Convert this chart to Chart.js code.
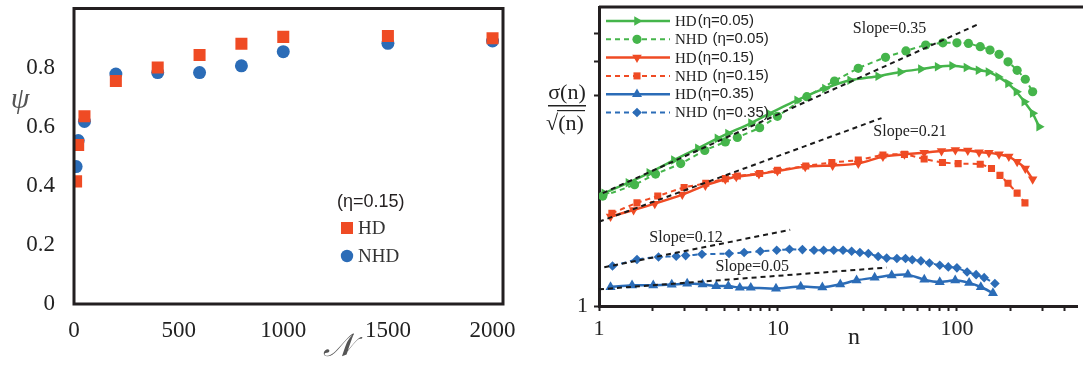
<!DOCTYPE html>
<html>
<head>
<meta charset="utf-8">
<script src="https://cdn.jsdelivr.net/npm/chart.js@4.4.0/dist/chart.umd.min.js"></script>
<style>
  html,body{margin:0;padding:0;background:#fff;}
  body{width:1083px;height:366px;position:relative;overflow:hidden;}
  #wrapL{position:absolute;left:0;top:0;width:540px;height:366px;}
  #wrapR{position:absolute;left:540px;top:0;width:543px;height:366px;}
</style>
</head>
<body>
<div id="wrapL"><canvas id="chartPsi" width="540" height="366"></canvas></div>
<div id="wrapR"><canvas id="chartSigma" width="543" height="366"></canvas></div>
<script>
// ---- left panel : psi vs N  (eta = 0.15)
const sizesN    = [10, 20, 50, 200, 400, 600, 800, 1000, 1500, 2000];
const psiHD     = [0.415, 0.538, 0.635, 0.755, 0.800, 0.843, 0.881, 0.904, 0.907, 0.899];
const psiNHD    = [0.465, 0.553, 0.618, 0.778, 0.783, 0.783, 0.806, 0.854, 0.882, 0.890];
const psiXTicks = [0, 500, 1000, 1500, 2000];
const psiYTicks = [0, 0.2, 0.4, 0.6, 0.8];

// ---- right panel : sigma(n)/sqrt(n) vs n  (log-log)
const nHD05  = [1.07, 1.46, 1.91, 2.62, 3.57, 4.59, 5.26, 7.07, 8.93, 12.8, 18.3, 25.3, 36.3, 48.3, 62.9, 78, 94, 113, 132, 150, 170, 193, 215, 238, 265, 288];
const sHD05  = [2.10, 2.25, 2.40, 2.61, 2.82, 3.01, 3.11, 3.33, 3.54, 3.87, 4.18, 4.41, 4.53, 4.66, 4.75, 4.82, 4.85, 4.80, 4.71, 4.66, 4.51, 4.32, 4.09, 3.83, 3.55, 3.25];
const nNHD05 = [1.05, 1.58, 2.07, 2.86, 3.90, 5.08, 5.93, 7.90, 9.93, 14.5, 20.7, 28.1, 39.9, 51.9, 66.9, 83.4, 100, 116, 135, 153, 172, 193, 217, 241, 265];
const sNHD05 = [2.06, 2.22, 2.38, 2.55, 2.78, 2.94, 3.03, 3.23, 3.48, 3.96, 4.39, 4.77, 5.13, 5.35, 5.56, 5.64, 5.64, 5.62, 5.50, 5.38, 5.23, 4.98, 4.71, 4.44, 4.09];
const nHD15  = [1.16, 1.56, 2.05, 2.92, 3.93, 5.08, 5.85, 7.83, 9.93, 14.2, 20.2, 28.1, 38.6, 50.9, 65.6, 82, 98, 115, 133, 151, 172, 195, 217, 241, 265];
const sHD15  = [1.80, 1.88, 1.96, 2.08, 2.21, 2.30, 2.34, 2.38, 2.43, 2.50, 2.52, 2.55, 2.67, 2.71, 2.74, 2.77, 2.79, 2.78, 2.75, 2.74, 2.71, 2.67, 2.58, 2.47, 2.30];
const nNHD15 = [1.18, 1.63, 2.13, 2.99, 3.95, 5.08, 5.93, 7.90, 9.93, 14.3, 20.0, 28.1, 38.6, 50.9, 65.6, 83, 101.6, 135, 156, 174, 193, 217, 240];
const sNHD15 = [1.84, 1.97, 2.06, 2.18, 2.24, 2.31, 2.35, 2.39, 2.44, 2.51, 2.57, 2.61, 2.70, 2.71, 2.63, 2.57, 2.55, 2.54, 2.47, 2.36, 2.24, 2.10, 1.97];
const nHD35  = [1.16, 1.53, 2.01, 2.55, 3.11, 3.79, 4.52, 5.28, 6.12, 7.05, 9.75, 13.4, 17.7, 22.3, 27.5, 34.7, 43.2, 53.2, 65.7, 80.2, 97.8, 117, 136, 159];
const sHD35  = [1.133, 1.146, 1.146, 1.151, 1.159, 1.153, 1.140, 1.140, 1.128, 1.128, 1.121, 1.136, 1.130, 1.153, 1.184, 1.205, 1.224, 1.229, 1.189, 1.171, 1.184, 1.164, 1.133, 1.089];
const nNHD35 = [1.19, 1.63, 2.15, 2.70, 3.05, 3.76, 5.33, 6.47, 7.96, 9.84, 11.6, 13.7, 15.9, 18.0, 20.5, 23.1, 25.8, 28.7, 32.0, 36.3, 40.5, 46.2, 51.6, 56.3, 62.9, 70.2, 80.2, 89.5, 100, 114, 128, 142, 163];
const sNHD35 = [1.301, 1.357, 1.380, 1.387, 1.393, 1.405, 1.412, 1.421, 1.433, 1.443, 1.452, 1.449, 1.443, 1.443, 1.443, 1.443, 1.433, 1.421, 1.412, 1.385, 1.370, 1.366, 1.366, 1.356, 1.345, 1.327, 1.307, 1.293, 1.285, 1.251, 1.229, 1.205, 1.159];

// guide lines (two end points each) and their labels
const slopeLabels = ["Slope=0.35", "Slope=0.21", "Slope=0.12", "Slope=0.05"];
const slopeN      = [[1.05, 132], [1.0, 37.9], [1.07, 11.7], [1.0, 40.4]];
const slopeS      = [[2.10, 6.38], [1.74, 3.44], [1.29, 1.65], [1.116, 1.287]];

const nTicks     = [1,2,3,4,5,6,7,8,9,10,20,30,40,50,60,70,80,90,100,200,300,400];
const nLabels    = [1, 10, 100];
const sigmaTicks = [1, 4, 5, 6];

// colours / fonts
const GREEN = "#45b54b", RED = "#ef4b24", BLUE = "#2b6cb7", INK = "#231f20";
const SERIF = '"Liberation Serif", "Times New Roman", serif';
const SANS  = '"Liberation Sans", Arial, sans-serif';

const pts = (xs, ys)=> xs.map((x,i)=>({x, y: ys[i]}));

function drawMarker(ctx, style, x, y, r, rot){
  ctx.beginPath();
  if (style === "circle") ctx.arc(x, y, r, 0, Math.PI*2);
  else if (style === "rect"){ const h = r*Math.SQRT1_2; ctx.rect(x-h, y-h, 2*h, 2*h); }
  else if (style === "rectRot"){ ctx.moveTo(x, y-r); ctx.lineTo(x+r, y); ctx.lineTo(x, y+r); ctx.lineTo(x-r, y); ctx.closePath(); }
  else { // triangle
    let a = (rot||0)*Math.PI/180;
    for (let i=0;i<3;i++){
      const px = x+Math.sin(a)*r, py = y-Math.cos(a)*r;
      if (i) ctx.lineTo(px,py); else ctx.moveTo(px,py);
      a += 2*Math.PI/3;
    }
    ctx.closePath();
  }
  ctx.fill();
}

// ================= left chart =================
const leftDecor = {
  id: "leftDecor",
  afterDraw(chart){
    const {ctx, chartArea:a} = chart;
    ctx.save();
    ctx.strokeStyle = INK; ctx.lineWidth = 3;
    ctx.strokeRect(a.left, a.top, a.right-a.left, a.bottom-a.top);

    ctx.fillStyle = INK;
    ctx.textBaseline = "middle"; ctx.textAlign = "left";
    ctx.font = "18px " + SANS;
    ctx.fillText("(η=0.15)", 337, 202);
    ctx.fillStyle = RED;  drawMarker(ctx, "rect", 347, 228, 8.5);
    ctx.fillStyle = BLUE; drawMarker(ctx, "circle", 347, 256, 6.2);
    ctx.fillStyle = "#333";
    ctx.font = "19px " + SERIF;
    ctx.fillText("HD", 358, 229);
    ctx.fillText("NHD", 358, 257);

    ctx.fillStyle = "#555";
    ctx.textAlign = "center";
    ctx.font = "italic 30px " + SERIF;
    ctx.fillText("ψ", 20, 100);
    ctx.font = "italic 32px " + SERIF;
    ctx.fillText("𝒩", 338, 348);
    ctx.restore();
  }
};

new Chart(document.getElementById("chartPsi"), {
  type: "scatter",
  data: {
    datasets: [
      { label:"HD",  data: pts(sizesN, psiHD),  pointStyle:"rect",   pointRadius:8.5, backgroundColor:RED,  borderColor:RED,  borderWidth:0 },
      { label:"NHD", data: pts(sizesN, psiNHD), pointStyle:"circle", pointRadius:6.5, backgroundColor:BLUE, borderColor:BLUE, borderWidth:0 }
    ]
  },
  options: {
    responsive:false, animation:false, devicePixelRatio:1,
    layout:{ padding:{ top:6, right:37, left:0, bottom:0 } },
    plugins:{ legend:{display:false}, tooltip:{enabled:false} },
    scales:{
      x:{
        type:"linear", min:0, max:2050,
        afterBuildTicks: s=>{ s.ticks = psiXTicks.map(v=>({value:v})); },
        afterFit: s=>{ s.height = 62; s.paddingLeft = 0; s.paddingRight = 0; },
        grid:{ display:false }, border:{ display:false },
        ticks:{ font:{ family:SERIF, size:23 }, color:"#222", padding:5, maxRotation:0, autoSkip:false,
                callback:v=> String(v) }
      },
      y:{
        type:"linear", min:0, max:1.0,
        afterBuildTicks: s=>{ s.ticks = psiYTicks.map(v=>({value:v})); },
        afterFit: s=>{ s.width = 74; s.paddingTop = 0; s.paddingBottom = 0; },
        grid:{ display:false }, border:{ display:false },
        ticks:{ font:{ family:SERIF, size:23 }, color:"#222", padding:11, callback:v=> v===0 ? "0" : v.toFixed(1) }
      }
    }
  },
  plugins:[leftDecor]
});

// ================= right chart =================
const series = [
  { name:"HD",  eta:"0.05", n:nHD05,  s:sHD05,  color:GREEN, dash:[],    style:"triangle", rot:90,  r:5.5 },
  { name:"NHD", eta:"0.05", n:nNHD05, s:sNHD05, color:GREEN, dash:[5,4], style:"circle",   rot:0,   r:4.6 },
  { name:"HD",  eta:"0.15", n:nHD15,  s:sHD15,  color:RED,   dash:[],    style:"triangle", rot:180, r:5.5 },
  { name:"NHD", eta:"0.15", n:nNHD15, s:sNHD15, color:RED,   dash:[5,4], style:"rect",     rot:0,   r:5.0 },
  { name:"HD",  eta:"0.35", n:nHD35,  s:sHD35,  color:BLUE,  dash:[],    style:"triangle", rot:0,   r:5.8 },
  { name:"NHD", eta:"0.35", n:nNHD35, s:sNHD35, color:BLUE,  dash:[5,4], style:"rectRot",  rot:0,   r:4.8 }
];

const guideSets = slopeLabels.map((lab,i)=>({
  label: lab, data: pts(slopeN[i], slopeS[i]),
  borderColor:"#1a1a1a", borderWidth:2, borderDash:[5,4], pointRadius:0, fill:false, clip:false
}));
const curveSets = series.map(sr=>({
  label: sr.name+"(η="+sr.eta+")", data: pts(sr.n, sr.s),
  borderColor: sr.color, backgroundColor: sr.color, borderWidth: sr.dash.length ? 2 : 2.5, borderDash: sr.dash,
  pointStyle: sr.style, rotation: sr.rot, pointRadius: sr.r, pointBorderWidth: 0,
  pointBackgroundColor: sr.color, tension: 0.2, fill:false
}));

const rightDecor = {
  id: "rightDecor",
  afterDraw(chart){
    const {ctx, chartArea:a, scales} = chart;
    ctx.save();
    // top frame line
    ctx.strokeStyle = INK; ctx.lineWidth = 3;
    ctx.beginPath(); ctx.moveTo(a.left, a.top); ctx.lineTo(chart.width, a.top); ctx.stroke();

    // legend
    series.forEach((sr,i)=>{
      const y = 21 + i*18.3;
      ctx.strokeStyle = sr.color; ctx.fillStyle = sr.color;
      ctx.lineWidth = sr.dash.length ? 2 : 2.5;
      ctx.setLineDash(sr.dash);
      ctx.beginPath(); ctx.moveTo(66, y); ctx.lineTo(130, y); ctx.stroke();
      ctx.setLineDash([]);
      drawMarker(ctx, sr.style, 97, y, sr.r, sr.rot);
      ctx.fillStyle = "#222"; ctx.textBaseline = "middle"; ctx.textAlign = "left";
      ctx.font = "15px " + SERIF;
      ctx.fillText(sr.name, 135, y+1);
      const w = ctx.measureText(sr.name).width + (sr.name === "NHD" ? 5 : 1);
      ctx.font = "15px " + SANS;
      ctx.fillText("(η=" + sr.eta + ")", 135 + w, y);
    });

    // slope labels, anchored in data space
    const anchors = [[26.2, 6.17], [34.1, 3.14], [1.91, 1.57], [4.48, 1.29]];
    ctx.fillStyle = "#222"; ctx.font = "16px " + SERIF; ctx.textBaseline = "middle"; ctx.textAlign = "left";
    slopeLabels.forEach((lab,i)=>{
      ctx.fillText(lab, scales.x.getPixelForValue(anchors[i][0]), scales.y.getPixelForValue(anchors[i][1]));
    });

    // axis titles
    ctx.textAlign = "center";
    ctx.font = "24px " + SERIF;
    ctx.fillText("n", 314, 338);
    ctx.font = "22px " + SERIF;
    ctx.fillText("σ(n)", 27, 93);
    ctx.fillRect(8, 105, 38, 1.5);
    ctx.fillText("√", 12, 124);
    ctx.fillText("(n)", 31, 124);
    ctx.fillRect(17, 110, 28, 1.2);
    ctx.restore();
  }
};

new Chart(document.getElementById("chartSigma"), {
  type: "line",
  data: { datasets: [...guideSets, ...curveSets] },
  options: {
    responsive:false, animation:false, devicePixelRatio:1,
    layout:{ padding:{ top:7, right:0, left:0, bottom:0 } },
    plugins:{ legend:{display:false}, tooltip:{enabled:false} },
    scales:{
      x:{
        type:"logarithmic", min:1, max:470,
        afterBuildTicks: s=>{ s.ticks = nTicks.map(v=>({value:v})); },
        afterFit: s=>{ s.height = 60; s.paddingLeft = 0; s.paddingRight = 0; },
        grid:{ drawOnChartArea:false, drawTicks:true, tickLength:5, tickWidth:2, tickColor:INK },
        border:{ display:true, width:3, color:INK },
        ticks:{ font:{ family:SERIF, size:22 }, color:"#222", padding:5, autoSkip:false, maxRotation:0, minRotation:0,
                major:{ enabled:false }, callback:v=> nLabels.includes(v) ? String(v) : "" }
      },
      y:{
        type:"logarithmic", min:1, max:7.14,
        afterBuildTicks: s=>{ s.ticks = sigmaTicks.map(v=>({value:v})); },
        afterFit: s=>{ s.width = 59; s.paddingTop = 0; s.paddingBottom = 0; },
        grid:{ drawOnChartArea:false, drawTicks:true, tickLength:5, tickWidth:2, tickColor:INK },
        border:{ display:true, width:3, color:INK },
        ticks:{ font:{ family:SERIF, size:22 }, color:"#222", padding:6, autoSkip:false,
                major:{ enabled:false }, callback:v=> v===1 ? "1" : "" }
      }
    }
  },
  plugins:[rightDecor]
});
</script>
</body>
</html>
